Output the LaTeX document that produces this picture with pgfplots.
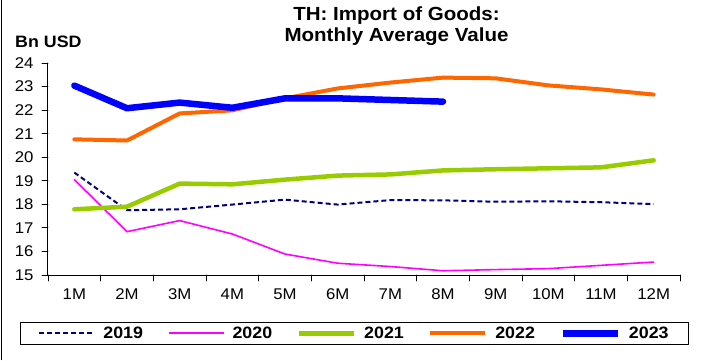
\documentclass[border=0pt]{standalone}
\usepackage{fontspec}
\setmainfont{Liberation Sans}[FakeStretch=1.08]
\usepackage{pgfplots}
\pgfplotsset{compat=1.18}
\definecolor{c2019}{HTML}{000080}
\definecolor{c2020}{HTML}{FF00FF}
\definecolor{c2021}{HTML}{99CC00}
\definecolor{c2022}{HTML}{FF6600}
\definecolor{c2023}{HTML}{0000FF}
\begin{document}
\begin{tikzpicture}[x=1pt,y=1pt]
\useasboundingbox (0,0) rectangle (701,360);
\draw[line width=1pt] (1.5,0) -- (1.5,360);
\begin{axis}[
  at={(48pt,85pt)}, anchor=south west,
  scale only axis, width=632pt, height=212pt,
  xmin=-0.5, xmax=11.5, ymin=15, ymax=24,
  axis lines*=left,
  axis line style={line width=1pt, black},
  xtick={0,...,11},
  xticklabels={1M,2M,3M,4M,5M,6M,7M,8M,9M,10M,11M,12M},
  major x tick style={draw=none},
  minor xtick={-0.5,0.5,...,11.5},
  ytick={15,...,24},
  tick align=outside,
  major tick length=6pt, minor tick length=6pt,
  tick style={black, line width=0.8pt},
  ticklabel style={font=\fontsize{15.5}{18}\selectfont},
  /pgf/number format/assume math mode=true,
  xticklabel style={yshift=-4pt},
  yticklabel style={xshift=-5pt},
  clip=false,
  legend columns=5,
  legend style={at={(-0.0443,-0.2217)}, anchor=north west,
    draw=black, line width=0.8pt,
    font=\bfseries\fontsize{16.5}{18}\selectfont,
    inner xsep=18pt, inner ysep=2.5pt,
    /tikz/every even column/.append style={column sep=22.5pt}},
  legend image code/.code={\draw[#1] (0pt,0pt) -- (55pt,0pt);},
  line cap=round, line join=round,
]
\addlegendimage{draw=c2019, line width=2pt, dash pattern=on 5pt off 3pt, line cap=butt}
\addlegendentry{\hspace{6pt}2019}
\addlegendimage{draw=c2020, line width=2pt}
\addlegendentry{\hspace{6pt}2020}
\addlegendimage{draw=c2021, line width=4.5pt}
\addlegendentry{\hspace{6pt}2021}
\addlegendimage{draw=c2022, line width=4pt}
\addlegendentry{\hspace{6pt}2022}
\addlegendimage{draw=c2023, line width=6.5pt}
\addlegendentry{\hspace{6pt}2023}
\addplot[c2019, line width=2pt, dash pattern=on 5pt off 3pt, line cap=butt, forget plot] coordinates {
(0,19.35)(1,17.75)(2,17.79)(3,17.99)(4,18.2)(5,17.99)(6,18.18)(7,18.17)(8,18.11)(9,18.13)(10,18.09)(11,18.01)};
\addplot[c2020, line width=1.6pt, forget plot] coordinates {
(0,19.05)(1,16.84)(2,17.31)(3,16.74)(4,15.89)(5,15.5)(6,15.36)(7,15.18)(8,15.23)(9,15.27)(10,15.41)(11,15.55)};
\addplot[c2021, line width=4.5pt, forget plot] coordinates {
(0,17.79)(1,17.9)(2,18.88)(3,18.85)(4,19.05)(5,19.22)(6,19.27)(7,19.44)(8,19.49)(9,19.53)(10,19.57)(11,19.87)};
\addplot[c2022, line width=4pt, forget plot] coordinates {
(0,20.76)(1,20.71)(2,21.86)(3,21.99)(4,22.5)(5,22.92)(6,23.17)(7,23.38)(8,23.35)(9,23.05)(10,22.88)(11,22.66)};
\addplot[c2023, line width=6.5pt, forget plot] coordinates {
(0,23.04)(1,22.08)(2,22.32)(3,22.1)(4,22.5)(5,22.5)(6,22.43)(7,22.36)};
\end{axis}
\node[anchor=base, font=\bfseries\fontsize{19}{22}\selectfont] at (396.5,340) {TH: Import of Goods:};
\node[anchor=base, font=\bfseries\fontsize{19}{22}\selectfont] at (396.5,319) {Monthly Average Value};
\node[anchor=base west, inner sep=0pt, font=\bfseries\fontsize{16.5}{18}\selectfont] at (15,313) {Bn USD};
\end{tikzpicture}
\end{document}
